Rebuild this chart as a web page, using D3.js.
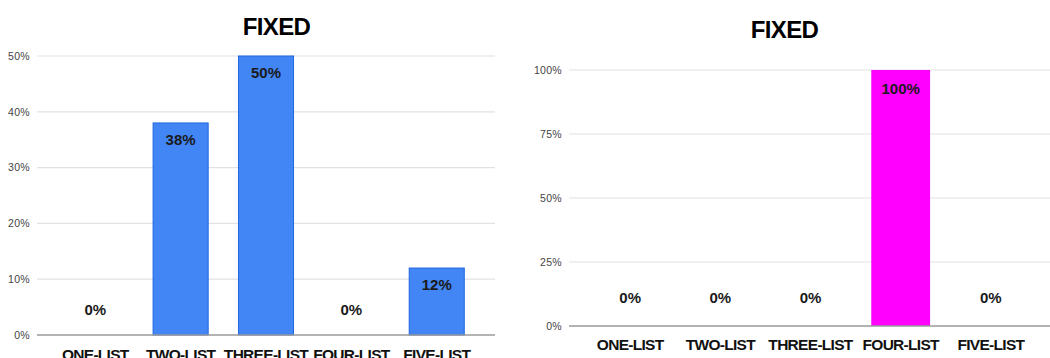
<!DOCTYPE html>
<html>
<head>
<meta charset="utf-8">
<script src="https://cdn.jsdelivr.net/npm/d3@7"></script>
<style>
  html, body { margin: 0; padding: 0; background: #fff; }
  svg { display: block; font-family: "Liberation Sans", Arial, sans-serif; }
</style>
</head>
<body>
<svg id="chart" width="1050" height="358"></svg>
<script>
// Shared categories for both panels
const categories = ["ONE-LIST", "TWO-LIST", "THREE-LIST", "FOUR-LIST", "FIVE-LIST"];

// Left panel: shares per list count
const leftTitle = "FIXED";
const leftValues = [0, 0.38, 0.50, 0, 0.12];
const leftTicks = [0, 0.1, 0.2, 0.3, 0.4, 0.5];

// Right panel: shares per list count
const rightTitle = "FIXED";
const rightValues = [0, 0, 0, 1.0, 0];
const rightTicks = [0, 0.25, 0.5, 0.75, 1.0];

const svg = d3.select("#chart");
const pct = d3.format(".0%");

function panel(cfg) {
  const g = svg.append("g");

  const x = d3.scaleBand()
    .domain(categories)
    .range(cfg.bandRange)
    .paddingInner(cfg.padInner)
    .paddingOuter(cfg.padOuter);

  const y = d3.scaleLinear()
    .domain([0, cfg.yMax])
    .range([cfg.y0, cfg.yTop]);

  // Gridlines
  g.append("g").selectAll("line")
    .data(cfg.ticks.filter(t => t > 0))
    .join("line")
    .attr("x1", cfg.gridX[0]).attr("x2", cfg.gridX[1])
    .attr("y1", d => y(d)).attr("y2", d => y(d))
    .attr("stroke", "#e2e2e2").attr("stroke-width", 1.2);

  // Y tick labels
  const yAxis = d3.axisLeft(y).tickValues(cfg.ticks).tickFormat(pct).tickSize(0).tickPadding(0);
  const ya = g.append("g")
    .attr("transform", `translate(${cfg.tickRight},0)`)
    .call(yAxis);
  ya.select(".domain").remove();
  ya.selectAll("text")
    .attr("font-size", 10.5)
    .attr("letter-spacing", "0.3px")
    .attr("fill", "#444")
    .attr("font-family", "'Liberation Sans', Arial, sans-serif");

  // Bars
  g.append("g").selectAll("rect")
    .data(cfg.values.map((v, i) => ({ c: categories[i], v })).filter(d => d.v > 0))
    .join("rect")
    .attr("x", d => x(d.c))
    .attr("width", x.bandwidth())
    .attr("y", d => y(d.v))
    .attr("height", d => y(0) - y(d.v))
    .attr("fill", cfg.color)
    .attr("stroke", cfg.stroke)
    .attr("stroke-width", cfg.stroke === "none" ? 0 : 1);

  // Baseline
  g.append("line")
    .attr("x1", cfg.gridX[0]).attr("x2", cfg.gridX[1])
    .attr("y1", y(0)).attr("y2", y(0))
    .attr("stroke", "#9a9a9a").attr("stroke-width", 1.6);

  // Value labels
  g.append("g").selectAll("text")
    .data(cfg.values.map((v, i) => ({ c: categories[i], v })))
    .join("text")
    .attr("x", d => x(d.c) + x.bandwidth() / 2)
    .attr("y", d => d.v > 0 ? y(d.v) + cfg.inOffset : y(0) - cfg.zeroOffset)
    .attr("text-anchor", "middle")
    .attr("font-size", 15)
    .attr("font-weight", "bold")
    .attr("fill", "#1a1a1a")
    .text(d => pct(d.v));

  // Category labels
  const xAxis = d3.axisBottom(x).tickSize(0).tickPadding(0);
  const xa = g.append("g")
    .attr("transform", `translate(0,${cfg.catBaseline})`)
    .call(xAxis);
  xa.select(".domain").remove();
  xa.selectAll("text")
    .attr("dy", 0)
    .attr("font-size", 15.5)
    .attr("font-weight", "bold")
    .attr("letter-spacing", "-0.7px")
    .attr("fill", "#111")
    .attr("font-family", "'Liberation Sans', Arial, sans-serif");

  // Title
  g.append("text")
    .attr("x", cfg.titleX).attr("y", cfg.titleY)
    .attr("text-anchor", "middle")
    .attr("font-size", 24)
    .attr("font-weight", "bold")
    .attr("letter-spacing", "-0.6px")
    .attr("fill", "#000")
    .text(cfg.title);
}

panel({
  title: leftTitle, values: leftValues, ticks: leftTicks, yMax: 0.5,
  bandRange: [37, 495], padInner: 0.355, padOuter: 0.36,
  gridX: [37, 495], y0: 335, yTop: 56, tickRight: 30,
  color: "#4285f4", stroke: "#1f66e0",
  inOffset: 22, zeroOffset: 20, catBaseline: 360,
  titleX: 276.5, titleY: 35
});

panel({
  title: rightTitle, values: rightValues, ticks: rightTicks, yMax: 1.0,
  bandRange: [571, 1050], padInner: 0.348, padOuter: 0.33,
  gridX: [569, 1050], y0: 326, yTop: 70, tickRight: 562,
  color: "#ff00ff", stroke: "none",
  inOffset: 24, zeroOffset: 23, catBaseline: 350,
  titleX: 784.5, titleY: 38
});
</script>
</body>
</html>
